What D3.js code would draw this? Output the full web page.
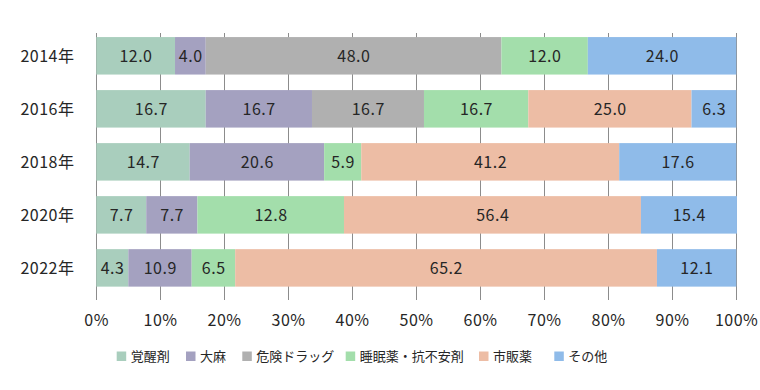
<!DOCTYPE html>
<html>
<head>
<meta charset="utf-8">
<script src="https://cdn.jsdelivr.net/npm/d3@7"></script>
<style>
  body { margin: 0; background: #fff; }
  text { font-family: "Noto Sans CJK JP", "Noto Sans", sans-serif; fill: #262626; }
</style>
</head>
<body>
<div id="chart-area"></div>
<script>
// years (rows) and drug categories (stack order)
const years = ['2014年', '2016年', '2018年', '2020年', '2022年'];
const categories = ['覚醒剤', '大麻', '危険ドラッグ', '睡眠薬・抗不安剤', '市販薬', 'その他'];
const colors = ['#a9cebd', '#a4a1c0', '#b0b0b0', '#a3deab', '#edbda5', '#8fbbe9'];

// printed labels, one array per category (null = no segment)
const labelStimulant = [12.0, 16.7, 14.7, 7.7, 4.3];
const labelCannabis  = [4.0, 16.7, 20.6, 7.7, 10.9];
const labelDanger    = [48.0, 16.7, null, null, null];
const labelSleeping  = [12.0, 16.7, 5.9, 12.8, 6.5];
const labelOtc       = [null, 25.0, 41.2, 56.4, 65.2];
const labelOther     = [24.0, 6.3, 17.6, 15.4, 12.1];

const shareStimulant = [12.3, 17.1, 14.6, 7.8, 5.0];
const shareCannabis  = [4.8, 16.6, 21.0, 8.0, 9.9];
const shareDanger    = [46.2, 17.5, 0, 0, 0];
const shareSleeping  = [13.5, 16.3, 5.8, 22.9, 6.8];
const shareOtc       = [0, 25.5, 40.3, 46.4, 65.9];
const shareOther     = [23.2, 7.0, 18.3, 15.0, 12.4];

const xTicks = [0, 10, 20, 30, 40, 50, 60, 70, 80, 90, 100];

(() => {
  const width = 760;
  const height = 390;

  const labels = [labelStimulant, labelCannabis, labelDanger, labelSleeping, labelOtc, labelOther];
  const shares = [shareStimulant, shareCannabis, shareDanger, shareSleeping, shareOtc, shareOther];

  const rows = years.map((y, i) => {
    const row = { year: y };
    categories.forEach((c, j) => { row[c] = shares[j][i]; });
    return row;
  });

  const stacked = d3.stack().keys(categories)(rows);

  const x = d3.scaleLinear().domain([0, 100]).range([96.3, 736.3]);
  const y = d3.scaleBand()
    .domain(years)
    .range([29.3, 294.4])
    .paddingInner(0.293)
    .paddingOuter(0.1465);

  const svg = d3.select('#chart-area').append('svg')
    .attr('width', width)
    .attr('height', height);

  // vertical gridlines
  svg.append('g')
    .selectAll('line')
    .data(xTicks)
    .join('line')
      .attr('x1', d => Math.round(x(d)) + 0.5)
      .attr('x2', d => Math.round(x(d)) + 0.5)
      .attr('y1', 33)
      .attr('y2', 300)
      .attr('stroke', '#8c8c8c')
      .attr('stroke-width', 1);

  svg.append('g')
    .selectAll('text')
    .data(xTicks)
    .join('text')
      .attr('x', d => x(d) + 0.3)
      .attr('y', 326)
      .attr('text-anchor', 'middle')
      .attr('font-size', 16)
      .attr('letter-spacing', 0.5)
      .text(d => d + '%');

  // bars
  const layers = svg.append('g')
    .selectAll('g')
    .data(stacked)
    .join('g')
      .attr('fill', (d, i) => colors[i]);

  layers.selectAll('rect')
    .data(d => d.filter(s => s[1] > s[0]))
    .join('rect')
      .attr('x', d => x(d[0]))
      .attr('y', d => y(d.data.year))
      .attr('width', d => x(d[1]) - x(d[0]))
      .attr('height', y.bandwidth());

  // value labels
  layers.each(function (layer, j) {
    d3.select(this).selectAll('text')
      .data(layer.map((s, i) => ({ s, v: labels[j][i] })).filter(d => d.v !== null))
      .join('text')
        .attr('x', d => (x(d.s[0]) + x(d.s[1])) / 2 + 0.3)
        .attr('y', d => y(d.s.data.year) + y.bandwidth() / 2)
        .attr('dy', '0.36em')
        .attr('text-anchor', 'middle')
        .attr('font-size', 16)
        .attr('letter-spacing', 0.5)
        .attr('fill', '#262626')
        .text(d => d.v.toFixed(1));
  });

  // year labels
  svg.append('g')
    .selectAll('text')
    .data(years)
    .join('text')
      .attr('x', 74.5)
      .attr('y', d => y(d) + y.bandwidth() / 2)
      .attr('dy', '0.36em')
      .attr('text-anchor', 'end')
      .attr('font-size', 16)
      .attr('letter-spacing', 0.5)
      .text(d => d);

  // legend (square positions)
  const legendX = [116.7, 186, 242.3, 345.7, 479, 554.3];
  const legend = svg.append('g')
    .selectAll('g')
    .data(categories)
    .join('g')
      .attr('transform', (d, i) => `translate(${legendX[i]}, 0)`);

  legend.append('rect')
    .attr('y', 351.5)
    .attr('width', 9.5)
    .attr('height', 9.5)
    .attr('fill', (d, i) => colors[i]);

  legend.append('text')
    .attr('x', 14)
    .attr('y', 356.5)
    .attr('dy', '0.36em')
    .attr('font-size', 13)
    .text(d => d);
})();
</script>
</body>
</html>
